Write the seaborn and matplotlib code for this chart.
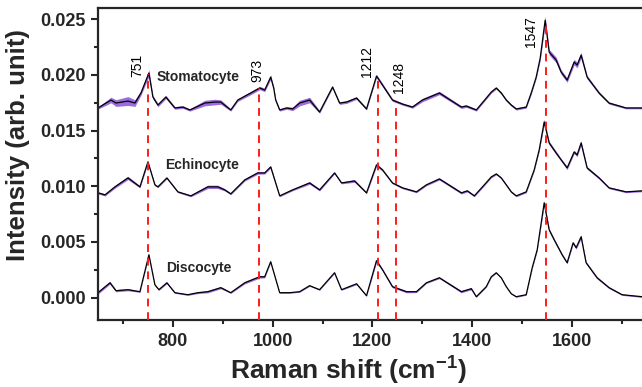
import numpy as np
import pandas as pd
import matplotlib
matplotlib.use("Agg")
import matplotlib.pyplot as plt
import seaborn as sns

# ---------------- data (intensities in units of 1e-3 arb. unit) ----------------
stoma_x = [650, 676, 686, 710, 724, 736, 752, 760, 770, 786, 804, 820, 834, 864, 884, 896,
           916, 930, 956, 974, 984, 996, 1002, 1006, 1014, 1028, 1040, 1054, 1074, 1094, 1120,
           1134, 1148, 1168, 1188, 1208, 1220, 1240, 1260, 1280, 1300, 1334, 1378, 1388,
           1408, 1428, 1438, 1448, 1458, 1468, 1478, 1488, 1508, 1518, 1528, 1536, 1546,
           1554, 1568, 1578, 1590, 1604, 1610, 1618, 1630, 1654, 1674, 1708, 1740]
stoma_y = [17.03, 17.74, 17.47, 17.65, 17.47, 18.37, 20.16, 18.01, 17.29, 18.01, 17.03,
           17.11, 16.85, 17.47, 17.56, 17.56, 16.85, 17.74, 18.37, 18.82, 18.64, 19.80,
           18.82, 17.74, 16.85, 17.03, 16.94, 17.47, 17.74, 16.67, 18.91, 17.47, 17.56, 17.92,
           16.94, 19.89, 19.09, 17.74, 17.38, 17.11, 17.74, 18.37, 17.11, 17.20, 16.85,
           17.92, 18.46, 18.82, 18.37, 17.74, 17.29, 16.94, 17.11, 18.37, 19.80, 21.50, 24.91,
           22.04, 21.33, 20.25, 19.53, 21.15, 20.88, 21.77, 19.80, 18.37, 17.47, 17.03, 17.03]
stoma_sd = [0.10, 0.25, 0.30, 0.40, 0.30, 0.20, 0.30, 0.15, 0.15, 0.15, 0.12, 0.12, 0.10,
            0.25, 0.25, 0.20, 0.10, 0.12, 0.15, 0.15, 0.15, 0.20, 0.15, 0.12, 0.10, 0.12, 0.15,
            0.25, 0.25, 0.12, 0.10, 0.12, 0.12, 0.12, 0.10, 0.15, 0.15, 0.12, 0.10, 0.10,
            0.15, 0.15, 0.12, 0.12, 0.10, 0.10, 0.10, 0.10, 0.10, 0.10, 0.10, 0.10, 0.10,
            0.12, 0.12, 0.20, 0.35, 0.25, 0.25, 0.20, 0.20, 0.25, 0.25, 0.25, 0.15, 0.12,
            0.10, 0.08, 0.08]

echino_x = [650, 664, 684, 710, 734, 750, 764, 770, 788, 810, 836, 870, 890, 904, 916, 944,
            970, 984, 996, 1014, 1040, 1074, 1094, 1124, 1138, 1164, 1188, 1208, 1220, 1240,
            1260, 1288, 1308, 1334, 1378, 1390, 1404, 1424, 1438, 1448, 1458, 1468, 1478,
            1488, 1508, 1524, 1534, 1544, 1554, 1568, 1578, 1590, 1604, 1610, 1618, 1630,
            1654, 1674, 1708, 1740]
echino_y = [9.41, 9.23, 9.95, 10.75, 9.95, 12.19, 10.13, 9.95, 10.75, 9.50, 9.14, 9.95,
            9.95, 9.68, 9.32, 10.57, 11.20, 11.20, 11.74, 9.14, 9.68, 10.30, 9.68, 11.20,
            10.30, 10.48, 9.41, 11.92, 11.47, 10.30, 9.86, 9.50, 10.13, 10.66, 9.41, 9.59,
            9.14, 10.13, 10.84, 11.11, 10.75, 10.13, 9.50, 9.14, 9.50, 11.47, 13.26, 15.77,
            13.89, 12.99, 12.37, 11.65, 13.08, 12.81, 13.89, 11.65, 10.75, 9.86, 9.50, 9.59]
echino_sd = [0.10, 0.10, 0.12, 0.15, 0.10, 0.12, 0.08, 0.08, 0.08, 0.08, 0.08, 0.15, 0.15,
             0.10, 0.08, 0.10, 0.12, 0.10, 0.10, 0.08, 0.08, 0.12, 0.10, 0.08, 0.08, 0.12,
             0.08, 0.15, 0.10, 0.08, 0.08, 0.08, 0.08, 0.10, 0.10, 0.10, 0.08, 0.08, 0.08,
             0.08, 0.08, 0.08, 0.08, 0.08, 0.08, 0.10, 0.12, 0.25, 0.15, 0.15, 0.12, 0.15,
             0.15, 0.15, 0.20, 0.12, 0.10, 0.08, 0.08, 0.08]

disco_x = [650, 674, 686, 710, 734, 752, 764, 772, 788, 804, 830, 850, 870, 896, 916, 944,
           974, 984, 996, 1014, 1034, 1054, 1074, 1094, 1124, 1138, 1168, 1188, 1208, 1220,
           1240, 1268, 1288, 1308, 1334, 1378, 1398, 1408, 1428, 1438, 1448, 1458, 1468,
           1478, 1488, 1508, 1520, 1530, 1544, 1554, 1564, 1580, 1590, 1602, 1608, 1618,
           1628, 1650, 1674, 1700, 1740]
disco_y = [0.45, 1.34, 0.63, 0.72, 0.54, 3.85, 1.16, 0.72, 1.34, 0.45, 0.27, 0.45, 0.54,
           0.90, 0.45, 1.34, 1.88, 1.88, 3.23, 0.45, 0.45, 0.54, 1.08, 0.72, 2.24, 0.72,
           1.25, 0.18, 3.32, 2.51, 0.99, 0.54, 0.54, 1.34, 1.79, 0.54, 0.81, 0.09, 0.99,
           1.88, 2.24, 1.79, 0.99, 0.36, 0.09, 0.27, 2.69, 4.30, 8.51, 6.09, 5.20, 3.85,
           3.14, 4.93, 4.48, 5.47, 3.14, 1.79, 0.90, 0.27, 0.09]
disco_sd = [0.12, 0.12, 0.10, 0.10, 0.06, 0.08, 0.06, 0.06, 0.08, 0.06, 0.06, 0.08, 0.10,
            0.10, 0.06, 0.10, 0.12, 0.10, 0.06, 0.05, 0.05, 0.05, 0.06, 0.05, 0.05, 0.05,
            0.08, 0.05, 0.15, 0.10, 0.10, 0.10, 0.08, 0.06, 0.08, 0.10, 0.10, 0.06, 0.05,
            0.05, 0.05, 0.05, 0.05, 0.05, 0.05, 0.05, 0.08, 0.10, 0.20, 0.12, 0.12, 0.10,
            0.10, 0.12, 0.12, 0.15, 0.10, 0.10, 0.08, 0.06, 0.06]

cell_names = ["Stomatocyte", "Echinocyte", "Discocyte"]
peak_positions = [751, 973, 1212, 1248, 1547]
peak_labels = ["751", "973", "1212", "1248", "1547"]

SCALE = 1e-3

# ---------------- style ----------------
sns.set_style("ticks")
plt.rcParams["font.family"] = ["Liberation Sans", "DejaVu Sans"]
plt.rcParams["mathtext.fontset"] = "custom"
plt.rcParams["mathtext.rm"] = "Liberation Sans:bold"
plt.rcParams["mathtext.bf"] = "Liberation Sans:bold"
plt.rcParams["mathtext.default"] = "bf"

fig = plt.figure(figsize=(6.42, 3.87), dpi=100)
ax = fig.add_axes([98 / 642, 67 / 387, 1 - 98 / 642, 312 / 387])

band_color = "#9b6bdf"
frames = []
for name, xs, ys, sds in [(cell_names[0], stoma_x, stoma_y, stoma_sd),
                          (cell_names[1], echino_x, echino_y, echino_sd),
                          (cell_names[2], disco_x, disco_y, disco_sd)]:
    y = np.array(ys) * SCALE
    sd = np.array(sds) * SCALE
    ax.fill_between(xs, y - sd, y + sd, color=band_color, linewidth=0, zorder=1)
    frames.append(pd.DataFrame({"shift": xs, "intensity": y, "cell": name}))

df = pd.concat(frames, ignore_index=True)
sns.lineplot(data=df, x="shift", y="intensity", units="cell", estimator=None,
             color="black", linewidth=0.9, ax=ax, zorder=2, legend=False,
             solid_joinstyle="round")

ax.set_xlim(650, 1740)
ax.set_ylim(-0.002, 0.026)

# red dashed marker lines up to the top spectrum
stoma_arr = np.array(stoma_y) * SCALE
label_x = [728, 970, 1188, 1254, 1518]
label_bottom = [0.0198, 0.01935, 0.0198, 0.01837, 0.0225]
for pos, lab, lx, lb in zip(peak_positions, peak_labels, label_x, label_bottom):
    top = np.interp(pos, stoma_x, stoma_arr)
    ax.plot([pos, pos], [-0.002, top], color="#ff1a1a", linestyle=(0, (4, 3)),
            linewidth=1.4, zorder=3)
    ax.text(lx, lb, lab, rotation=90, ha="center", va="bottom", fontsize=10,
            color="black")

# cell labels
ax.text(850, 0.0198, cell_names[0], ha="center", va="center", fontsize=10,
        fontweight="bold")
ax.text(858, 0.0119, cell_names[1], ha="center", va="center", fontsize=10,
        fontweight="bold")
ax.text(852, 0.0027, cell_names[2], ha="center", va="center", fontsize=10,
        fontweight="bold")

# ticks
ax.set_xticks([800, 1000, 1200, 1400, 1600])
ax.set_xticks([700, 900, 1100, 1300, 1500, 1700], minor=True)
ax.set_yticks([0.000, 0.005, 0.010, 0.015, 0.020, 0.025])
ax.set_yticks([0.0025, 0.0075, 0.0125, 0.0175, 0.0225], minor=True)
ax.set_yticklabels(["0.000", "0.005", "0.010", "0.015", "0.020", "0.025"])
ax.tick_params(axis="both", which="major", direction="out", length=5, width=1.5,
               labelsize=13, pad=4)
ax.tick_params(axis="both", which="minor", direction="out", length=3, width=1.5)
for lab in ax.get_xticklabels() + ax.get_yticklabels():
    lab.set_fontweight("bold")

for side in ["left", "bottom", "top"]:
    ax.spines[side].set_linewidth(1.6)
    ax.spines[side].set_visible(True)
ax.spines["right"].set_visible(False)

ax.set_xlabel("Raman shift (cm$^{-1}$)", fontsize=19, fontweight="bold")
ax.xaxis.set_label_coords(0.46, -0.112)
ax.set_ylabel("Intensity (arb. unit)", fontsize=18.5, fontweight="bold")
ax.yaxis.set_label_coords(-0.125, 0.56)

fig.savefig("out.png", dpi=100)
